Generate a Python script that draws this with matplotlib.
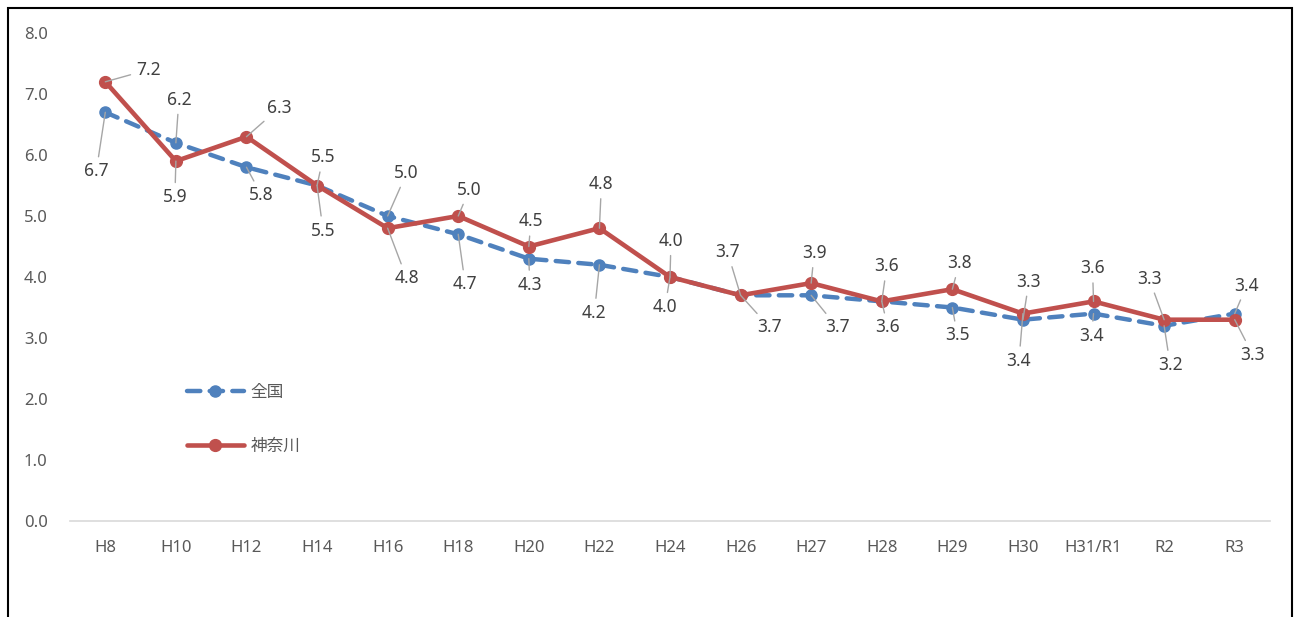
import matplotlib
matplotlib.use("Agg")
import matplotlib.pyplot as plt
from matplotlib.patches import Rectangle

plt.rcParams['font.family'] = ['Noto Sans', 'Noto Sans CJK JP', 'DejaVu Sans']

# データ
years = ['H8', 'H10', 'H12', 'H14', 'H16', 'H18', 'H20', 'H22', 'H24',
         'H26', 'H27', 'H28', 'H29', 'H30', 'H31/R1', 'R2', 'R3']
zenkoku = [6.7, 6.2, 5.8, 5.5, 5.0, 4.7, 4.3, 4.2, 4.0,
           3.7, 3.7, 3.6, 3.5, 3.3, 3.4, 3.2, 3.4]
kanagawa = [7.2, 5.9, 6.3, 5.5, 4.8, 5.0, 4.5, 4.8, 4.0,
            3.7, 3.9, 3.6, 3.8, 3.4, 3.6, 3.3, 3.3]

# ラベルの位置（ピクセル、右・下が正）
off_zen = [(-9, 59), (3, -43), (15, 28), (6, -28), (19, -43), (7, 50), (1, 26),
           (-5, 48), (-5, 30), (29, 32), (26, 32), (6, 26), (5, 28), (6, -38),
           (-2, 22), (6, 39), (12, -28)]
off_kan = [(43, -12), (-1, 36), (33, -29), (6, 45), (19, 50), (11, -26), (2, -25),
           (2, -44), (1, -36), (-13, -43), (3, -30), (5, -35), (7, -26), (-4, 47),
           (-1, -33), (-15, -41), (18, 35)]

BLUE = '#4F81BD'
RED = '#C0504D'

fig = plt.figure(figsize=(13.04, 6.17), dpi=100)
ax = fig.add_axes([70 / 1304, 1 - 521 / 617, 1200 / 1304, 488 / 617])

x = list(range(len(years)))
ax.plot(x, zenkoku, color=BLUE, lw=3.2, dashes=(3.0, 2.1), dash_capstyle='round',
        marker='o', ms=8, label='全国', zorder=3)
ax.plot(x, kanagawa, color=RED, lw=3.3, marker='o', ms=8.5, label='神奈川',
        solid_capstyle='round', zorder=4)


def labels(vals, offs):
    for i, (v, (dx, dy)) in enumerate(zip(vals, offs)):
        ax.annotate(f'{v:.1f}', xy=(i, v), xytext=(dx * 0.72, -dy * 0.72),
                    textcoords='offset points', ha='center', va='center',
                    fontsize=12.5, color='#404040', zorder=6,
                    arrowprops=dict(arrowstyle='-', color='#a6a6a6', lw=1,
                                    shrinkA=2, shrinkB=0))


labels(zenkoku, off_zen)
labels(kanagawa, off_kan)

ax.set_xlim(-0.5, len(years) - 0.5)
ax.set_ylim(0, 8)
ax.set_xticks(x)
ax.set_xticklabels(years)
ax.set_yticks([i * 1.0 for i in range(9)])
ax.set_yticklabels([f'{i:.1f}' for i in range(9)])
ax.tick_params(length=0, labelsize=12, colors='#595959')
ax.tick_params(axis='x', pad=14)
ax.tick_params(axis='y', pad=16)
for s in ['top', 'right', 'left']:
    ax.spines[s].set_visible(False)
ax.spines['bottom'].set_color('#d9d9d9')
ax.spines['bottom'].set_linewidth(1.2)

leg = ax.legend(loc='upper left', bbox_to_anchor=(0.085, 0.31), frameon=False,
                fontsize=12, handlelength=3.4, labelspacing=2.3, handletextpad=0.4)
for t in leg.get_texts():
    t.set_color('#595959')

fig.patches.append(Rectangle((8 / 1304, -0.1), 1284 / 1304, 1.1 - 8 / 617,
                             transform=fig.transFigure, fill=False,
                             edgecolor='black', lw=1.5))

fig.savefig('out.png', dpi=100)
